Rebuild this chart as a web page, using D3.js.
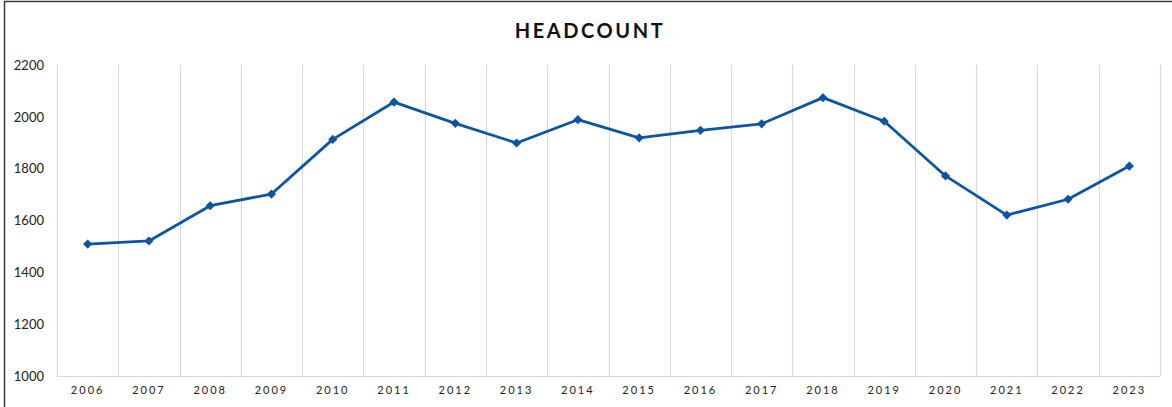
<!DOCTYPE html>
<html>
<head>
<meta charset="utf-8">
<script src="https://cdn.jsdelivr.net/npm/d3@7"></script>
<style>
	body { margin: 0; background: #fff; }
	svg { display: block; }
</style>
</head>
<body>
<svg id="chart"></svg>
<script>
const years = ["2006", "2007", "2008", "2009", "2010", "2011", "2012", "2013", "2014",
	"2015", "2016", "2017", "2018", "2019", "2020", "2021", "2022", "2023"];
const headcount = [1509, 1521, 1657, 1702, 1913, 2057, 1975, 1899, 1989,
	1919, 1948, 1973, 2074, 1983, 1772, 1621, 1682, 1810];
const yTicks = [1000, 1200, 1400, 1600, 1800, 2000, 2200];

const width = 1172, height = 407;
const margin = {top: 65, right: 12, bottom: 31, left: 57};
const lineColor = "#0b55a3";

let svg = d3.select("#chart")
	.attr("width", width)
	.attr("height", height);

// outer frame (only left and top edges show in the crop)
svg.append("path")
	.attr("d", "M4.5,407 V1.5 H1172")
	.attr("fill", "none")
	.attr("stroke", "#3a3a3a")
	.attr("stroke-width", 1.5);

svg.append("text")
	.attr("x", 590)
	.attr("y", 38)
	.attr("text-anchor", "middle")
	.attr("font-family", "Lato, 'Open Sans', sans-serif")
	.attr("font-weight", "bold")
	.attr("font-size", 20)
	.attr("letter-spacing", 2.6)
	.attr("fill", "#111")
	.text("HEADCOUNT");

let x = d3.scaleBand()
	.domain(years)
	.range([margin.left, width - margin.right]);

let y = d3.scaleLinear()
	.domain([1000, 2200])
	.range([height - margin.bottom, margin.top]);

// vertical gridlines at category boundaries
let bounds = years.map(d => x(d)).concat([x.range()[1]]);
svg.append("g")
	.selectAll("line")
	.data(bounds)
	.join("line")
	.attr("x1", d => Math.round(d) + 0.5)
	.attr("x2", d => Math.round(d) + 0.5)
	.attr("y1", y(2200))
	.attr("y2", y(1000))
	.attr("stroke", "#d9d9d9")
	.attr("stroke-width", 1.2);

// baseline
svg.append("line")
	.attr("x1", x.range()[0])
	.attr("x2", x.range()[1])
	.attr("y1", y(1000) + 0.5)
	.attr("y2", y(1000) + 0.5)
	.attr("stroke", "#d9d9d9")
	.attr("stroke-width", 1.2);

// y axis labels
let yAxis = svg.append("g")
	.attr("transform", "translate(" + (margin.left - 13) + ",0)")
	.call(d3.axisLeft(y).tickValues(yTicks).tickFormat(d3.format("d")).tickSize(0).tickPadding(0));
yAxis.select(".domain").remove();
yAxis.selectAll("text")
	.attr("font-family", "Lato, 'Open Sans', sans-serif")
	.attr("font-size", 13)
	.attr("fill", "#222");

// x axis labels
let xAxis = svg.append("g")
	.attr("transform", "translate(0," + y(1000) + ")")
	.call(d3.axisBottom(x).tickSize(0).tickPadding(10));
xAxis.select(".domain").remove();
xAxis.selectAll("text")
	.attr("font-family", "Lato, 'Open Sans', sans-serif")
	.attr("font-size", 11)
	.attr("letter-spacing", 2)
	.attr("fill", "#222");

let lineGenerator = d3.line()
	.x((d, i) => x(years[i]) + x.bandwidth() / 2)
	.y(d => y(d));

svg.append("path")
	.datum(headcount)
	.attr("d", lineGenerator)
	.attr("fill", "none")
	.attr("stroke", lineColor)
	.attr("stroke-width", 2.8)
	.attr("stroke-linejoin", "round");

// diamond markers: squares turned 45 degrees
svg.append("g")
	.selectAll("path")
	.data(headcount)
	.join("path")
	.attr("d", d3.symbol().type(d3.symbolSquare).size(30))
	.attr("transform", (d, i) => "translate(" + (x(years[i]) + x.bandwidth() / 2) + "," + y(d) + ") rotate(45)")
	.attr("fill", lineColor)
	.attr("stroke", lineColor)
	.attr("stroke-width", 1);
</script>
</body>
</html>
